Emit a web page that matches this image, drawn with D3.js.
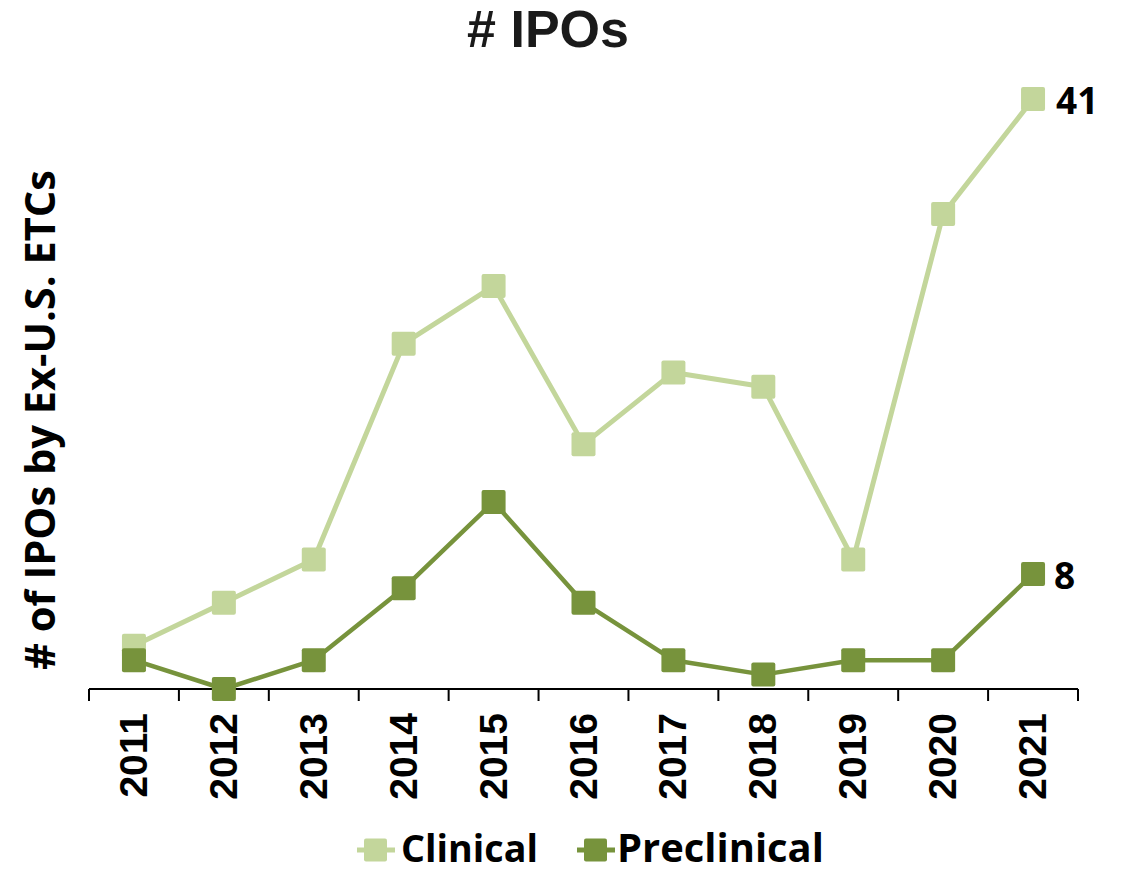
<!DOCTYPE html>
<html><head><meta charset="utf-8">
<script src="https://cdn.jsdelivr.net/npm/d3@7"></script>
<style>body{margin:0;background:#fff}svg{display:block}</style>
</head><body>
<svg id="c" width="1123" height="874"></svg>
<script>
const years = ["2011","2012","2013","2014","2015","2016","2017","2018","2019","2020","2021"];
const clinical = [3,6,9,24,28,17,22,21,9,33,41];
const preclinical = [2,0,2,7,13,6,2,1,2,2,8];
const seriesNames = ["Clinical","Preclinical"];
const colors = ["#c3d69b","#77933c"];

const svg = d3.select("#c");
const x = d3.scaleBand().domain(years).range([89,1078]).padding(0);
const y = d3.scaleLinear().domain([0,41]).range([689,99]);
const cx = d => x(d) + x.bandwidth()/2;

function fit(sel, target){
  const base = +sel.attr("font-size");
  const w = sel.node().getComputedTextLength();
  if (w > 0) sel.attr("font-size", base*target/w);
}

// title
svg.append("text").attr("x",548).attr("y",47).attr("text-anchor","middle")
  .attr("font-family","Liberation Sans, Arial, sans-serif").attr("font-weight","bold")
  .attr("font-size",52).attr("fill","#1a1a1a").text("# IPOs");

// y label
const yl = svg.append("text").attr("transform","translate(55,420) rotate(-90)").attr("text-anchor","middle")
  .attr("font-family","Open Sans, sans-serif").attr("font-weight","bold")
  .attr("font-size",36).attr("fill","#000").text("# of IPOs by Ex-U.S. ETCs");
fit(yl, 500);

// axis
const ax = svg.append("g");
ax.append("line").attr("x1",89).attr("x2",1078).attr("y1",689).attr("y2",689).attr("stroke","#000").attr("stroke-width",2);
const bounds = years.map(d=>x(d)).concat([x(years[years.length-1])+x.bandwidth()]);
ax.selectAll("line.t").data(bounds).enter().append("line").attr("class","t")
  .attr("x1",d=>d).attr("x2",d=>d).attr("y1",689).attr("y2",701).attr("stroke","#000").attr("stroke-width",2);
ax.selectAll("text").data(years).enter().append("text")
  .attr("transform",d=>`translate(${cx(d)+13},713) rotate(-90)`).attr("text-anchor","end")
  .attr("font-family","Liberation Sans, Arial, sans-serif").attr("font-weight","bold")
  .attr("font-size",39).attr("fill","#000").text(d=>d);

const line = d3.line().x((d,i)=>cx(years[i])).y(d=>y(d));
const data = [clinical, preclinical];
data.forEach((vals,k)=>{
  svg.append("path").datum(vals).attr("d",line).attr("fill","none")
    .attr("stroke",colors[k]).attr("stroke-width",k===0?5:4.5).attr("stroke-linejoin","round");
});
data.forEach((vals,k)=>{
  svg.selectAll("rect.m"+k).data(vals).enter().append("rect").attr("class","m"+k)
    .attr("x",(d,i)=>cx(years[i])-12).attr("y",d=>y(d)-12).attr("width",24).attr("height",24)
    .attr("rx",2).attr("fill",colors[k]);
});
// end labels
svg.append("text").attr("x",1056).attr("y",y(clinical[10])+15).attr("font-family","Open Sans, sans-serif")
  .attr("font-weight","bold").attr("font-size",37).attr("fill","#000").text(clinical[10]);
svg.append("text").attr("x",1054).attr("y",y(preclinical[10])+15).attr("font-family","Open Sans, sans-serif")
  .attr("font-weight","bold").attr("font-size",37).attr("fill","#000").text(preclinical[10]);

// legend
const leg = [{x:357, tx:401, w:137},{x:577, tx:617, w:207}];
leg.forEach((l,k)=>{
  const g = svg.append("g");
  g.append("line").attr("x1",l.x).attr("x2",l.x+38).attr("y1",850).attr("y2",850).attr("stroke",colors[k]).attr("stroke-width",5);
  g.append("rect").attr("x",l.x+7).attr("y",838.5).attr("width",23).attr("height",23).attr("rx",2).attr("fill",colors[k]);
  const t = g.append("text").attr("x",l.tx).attr("y",862).attr("font-family","Open Sans, sans-serif").attr("font-weight","bold")
    .attr("font-size",38).attr("fill","#000").text(seriesNames[k]);
  fit(t, l.w);
});
</script>
</body></html>
